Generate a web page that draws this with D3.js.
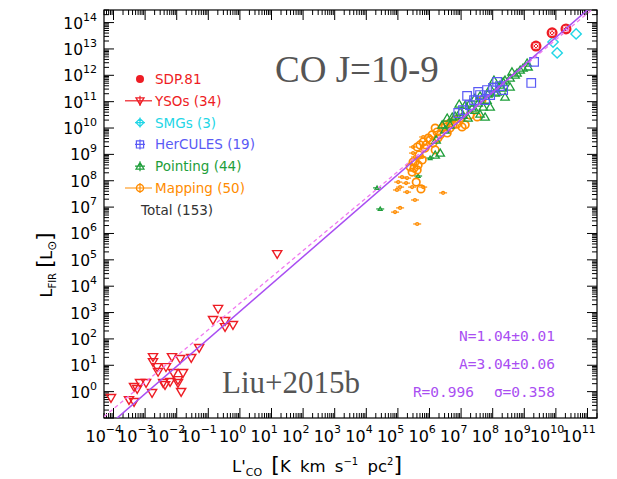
<!DOCTYPE html>
<html><head><meta charset="utf-8">
<script src="https://cdn.jsdelivr.net/npm/d3@7"></script>
<style>body{margin:0;background:#fff}</style>
</head><body>
<svg id="c" width="617" height="479" xmlns="http://www.w3.org/2000/svg"></svg>
<script>
// ---- data (log10 values: L'CO, L_FIR) ----
const sdpX = [9.37, 9.88, 10.32];
const sdpY = [13.11, 13.61, 13.76];
const smgX = [9.91, 10.04, 10.64];
const smgY = [13.26, 12.85, 13.57];
const herX = [9.31, 9.22, 8.14, 8.33, 7.82, 7.60, 7.28, 7.92, 7.06, 6.91, 7.54, 7.19, 8.01, 7.76, 7.41, 8.23];
const herY = [12.51, 11.71, 11.75, 11.44, 11.44, 11.25, 10.87, 11.25, 10.68, 10.57, 11.37, 11.22, 11.52, 11.06, 11.06, 11.59];
const ptX = [9.09, 9.12, 8.96, 8.77, 8.55, 8.55, 8.33, 8.30, 8.39, 8.14, 7.92, 7.82, 7.60, 7.28, 7.13, 7.70, 7.92, 7.44, 6.56, 6.72, 7.06, 7.76, 6.81, 7.60, 7.22, 6.18, 6.34, 6.21, 6.40, 8.87, 6.94, 8.04, 7.44, 8.23, 8.61, 7.85, 7.35, 7.54, 8.08, 6.65, 8.39, 8.71, 6.97, 6.49];
const ptY = [12.47, 12.32, 12.28, 12.09, 11.90, 11.56, 11.75, 11.52, 11.18, 11.37, 11.52, 11.06, 11.22, 10.95, 10.87, 10.80, 10.80, 10.68, 10.38, 10.42, 10.49, 10.42, 10.46, 10.53, 10.38, 8.98, 9.05, 9.55, 10.12, 12.20, 10.91, 11.82, 11.14, 11.63, 12.13, 11.29, 10.76, 10.95, 11.33, 10.12, 11.82, 12.01, 10.61, 9.93];
const ptLimX = [4.34, 4.44, 6.02, 5.64];
const ptLimY = [7.73, 6.93, 8.86, 8.18];
const mapX = [6.08, 6.24, 6.40, 6.49, 6.65, 6.81, 6.97, 7.13, 7.03, 5.80, 5.70, 5.61, 5.86, 6.11, 6.18, 5.48, 5.39, 5.45, 5.61, 5.54, 5.64, 5.58, 5.73, 7.28, 7.51, 6.27, 6.56, 6.75, 5.96, 7.66, 6.49, 6.34, 5.89, 6.02, 6.65, 6.87, 5.67, 5.77, 5.51, 6.18];
const mapY = [9.74, 9.85, 10.00, 10.12, 10.19, 10.31, 10.38, 10.12, 10.04, 9.47, 9.36, 9.28, 9.24, 9.43, 9.17, 8.71, 8.52, 8.33, 8.41, 8.71, 8.60, 7.95, 7.69, 10.49, 10.42, 9.62, 9.81, 10.12, 9.62, 11.06, 10.04, 9.74, 9.36, 9.55, 10.00, 10.15, 8.98, 8.79, 8.48, 10.00];
const mapLimX = [5.80, 5.48, 5.48, 5.54, 5.77, 5.13, 5.01, 5.29, 5.26, 5.45, 4.97, 5.29, 5.54, 6.43, 5.61, 5.80, 5.07, 5.07, 4.91];
const mapLimY = [9.66, 9.28, 9.05, 8.90, 8.90, 8.14, 7.95, 8.10, 7.91, 7.76, 7.65, 7.57, 7.27, 7.54, 6.36, 7.76, 7.76, 6.97, 6.81];
const ysoX = [1.18, -0.69, -0.85, -0.47, -0.47, -0.22, -1.29, -1.54, -2.15, -1.89, -2.75, -2.75, -2.62, -2.59, -2.34, -2.11, -1.80, -2.43, -2.37, -2.21, -1.96, -1.96, -1.86, -2.78, -2.97, -3.16, -3.35, -3.25, -3.51, -3.35, -4.08];
const ysoY = [5.22, 3.14, 2.72, 2.68, 2.45, 2.53, 1.66, 1.28, 1.31, 1.24, 1.31, 1.12, 0.93, 0.75, 0.93, 0.71, 0.71, 0.33, 0.25, 0.37, 0.44, 0.33, -0.01, -0.05, 0.33, 0.33, 0.18, 0.10, -0.32, -0.39, -0.24];
const legendLabels = ["SDP.81", "YSOs (34)", "SMGs (3)", "HerCULES (19)", "Pointing (44)", "Mapping (50)", "Total (153)"];
const xTickExps = [-4,-3,-2,-1,0,1,2,3,4,5,6,7,8,9,10,11];
const yTickExps = [0,1,2,3,4,5,6,7,8,9,10,11,12,13,14];
const fitN = 1.04, fitA = 3.04;         // solid fit: log Lfir = N log L'co + A
const refSlope = 1.0, refIntercept = 3.35; // dashed reference line
const statLines = ["N=1.04±0.01", "A=3.04±0.06"];
const statR = "R=0.996", statSigma = "σ=0.358";

// ---- colours ----
const C = {red:"#ee1c24", cyan:"#22d6e6", blue:"#5a5af5", green:"#1e9e3a", orange:"#ff8c00", purple:"#a94ef2", pink:"#f07af0"};

const svg = d3.select("#c");
const F = {l:104, r:597, t:10, b:418};
const x = d3.scaleLog().domain([5e-5, 2e11]).range([F.l, F.r]);
const y = d3.scaleLog().domain([0.1, 3e14]).range([F.b, F.t]);
const P = v => Math.pow(10, v);

svg.append("rect").attr("width",617).attr("height",479).attr("fill","#fff");
svg.append("defs").append("clipPath").attr("id","clip").append("rect")
  .attr("x",F.l).attr("y",F.t).attr("width",F.r-F.l).attr("height",F.b-F.t);

// ---- axes (IDL style, ticks inward on all sides) ----
function ticksFor(scale){
  const [a,b] = scale.domain(); const lo=Math.floor(Math.log10(a)), hi=Math.ceil(Math.log10(b));
  const major=[], minor=[];
  for(let d=lo; d<=hi; d++){
    for(let k=1;k<10;k++){ const v=k*P(d); if(v<a*0.9999||v>b*1.0001) continue; (k===1?major:minor).push(v); }
  }
  return {major, minor};
}
const xt = ticksFor(x), yt = ticksFor(y);
const axG = svg.append("g").attr("stroke","#000").attr("stroke-width",1);
function tickLines(vals, len, horiz){
  vals.forEach(v=>{
    if(horiz){
      const px = x(v);
      axG.append("line").attr("x1",px).attr("x2",px).attr("y1",F.b).attr("y2",F.b-len);
      axG.append("line").attr("x1",px).attr("x2",px).attr("y1",F.t).attr("y2",F.t+len);
    } else {
      const py = y(v);
      axG.append("line").attr("y1",py).attr("y2",py).attr("x1",F.l).attr("x2",F.l+len);
      axG.append("line").attr("y1",py).attr("y2",py).attr("x1",F.r).attr("x2",F.r-len);
    }
  });
}
tickLines(xt.major, 10, true); tickLines(xt.minor, 5, true);
tickLines(yt.major, 10, false); tickLines(yt.minor, 5, false);
svg.append("rect").attr("x",F.l).attr("y",F.t).attr("width",F.r-F.l).attr("height",F.b-F.t)
  .attr("fill","none").attr("stroke","#000").attr("stroke-width",1.2);

const tickFont = "DejaVu Sans";
xTickExps.forEach(e=>{
  const px = x(P(e));
  const off = e<0 ? 28 : (String(e).length>1 ? 26 : 21);
  const t = svg.append("text").attr("x",px-off).attr("y",442).attr("font-family",tickFont).attr("font-size",16).attr("fill","#000");
  t.append("tspan").text("10");
  t.append("tspan").attr("font-size",11).attr("dy",-9).text(String(e).replace("-","−"));
});
yTickExps.forEach(e=>{
  const py = y(P(e));
  const t = svg.append("text").attr("x",97).attr("y",py+6).attr("text-anchor","end").attr("font-family",tickFont).attr("font-size",15.5).attr("fill","#000");
  t.append("tspan").text("10");
  t.append("tspan").attr("font-size",11).attr("dy",-8).text(String(e));
});

// axis titles
const xl = svg.append("text").attr("x",232).attr("y",472).attr("font-family",tickFont).attr("font-size",16.5)
  .attr("fill","#000").attr("word-spacing",4);
xl.append("tspan").text("L'");
xl.append("tspan").attr("font-size",11).attr("dy",4).text("CO");
xl.append("tspan").attr("dy",-4).text(" ");
xl.append("tspan").attr("font-size",22).text("[");
xl.append("tspan").text("K km s");
xl.append("tspan").attr("font-size",10).attr("dy",-7).text("−1");
xl.append("tspan").attr("dy",7).text(" pc");
xl.append("tspan").attr("font-size",10).attr("dy",-7).text("2");
xl.append("tspan").attr("dy",7).attr("font-size",22).text("]");

const yl = svg.append("text").attr("transform","translate(52,265) rotate(-90)").attr("text-anchor","middle")
  .attr("font-family",tickFont).attr("font-size",16).attr("fill","#000");
yl.append("tspan").text("L");
yl.append("tspan").attr("font-size",10).attr("dy",4).text("FIR");
yl.append("tspan").attr("dy",-4).text(" ");
yl.append("tspan").attr("font-size",21).text("[");
yl.append("tspan").text("L");
yl.append("tspan").attr("font-size",12).attr("dy",4).text("⊙");
yl.append("tspan").attr("dy",-4).attr("font-size",21).text("]");

// ---- markers ----
const plot = svg.append("g").attr("clip-path","url(#clip)");
function triDown(s){ return `M${-s},${-s*0.75}L${s},${-s*0.75}L0,${s*0.95}Z`; }
function triUp(s){ return `M${-s},${s*0.75}L${s},${s*0.75}L0,${-s*0.95}Z`; }
function diamond(s){ return `M0,${-s}L${s},0L0,${s}L${-s},0Z`; }
function square(s){ return `M${-s},${-s}L${s},${-s}L${s},${s}L${-s},${s}Z`; }

function pts(xs, ys, path, color, sw){
  plot.append("g").selectAll("path").data(xs.map((v,i)=>[v,ys[i]])).join("path")
    .attr("transform",d=>`translate(${x(P(d[0]))},${y(P(d[1]))})`)
    .attr("d",path).attr("fill","none").attr("stroke",color).attr("stroke-width",sw);
}
// limits (small horizontal bars)
function lims(xs, ys, color, kind){
  const g = plot.append("g").attr("stroke",color).attr("fill","none").attr("stroke-width",1.2);
  xs.forEach((v,i)=>{
    const px=x(P(v)), py=y(P(ys[i]));
    g.append("line").attr("x1",px-4).attr("x2",px+4).attr("y1",py).attr("y2",py);
    if(kind==="c") g.append("circle").attr("cx",px).attr("cy",py).attr("r",1.5);
    else g.append("path").attr("d",`M${px-2},${py+1.5}L${px+2},${py+1.5}L${px},${py-2}Z`);
  });
}
lims(mapLimX, mapLimY, C.orange, "c");
lims(ptLimX, ptLimY, C.green, "t");
pts(mapX, mapY, d3.symbol().type(d3.symbolCircle).size(44)(), C.orange, 1.7);
pts(ptX, ptY, triUp(4.2), C.green, 1.3);
pts(herX, herY, square(4.3), C.blue, 1.2);
pts(smgX, smgY, diamond(5.2), C.cyan, 1.4);
pts(ysoX, ysoY, triDown(4.6), C.red, 1.4);
// SDP.81 filled circles with white cross
const sg = plot.append("g");
sdpX.forEach((v,i)=>{
  const px=x(P(v)), py=y(P(sdpY[i]));
  sg.append("circle").attr("cx",px).attr("cy",py).attr("r",5.5).attr("fill",C.red);
  sg.append("path").attr("d",`M${px-2.5},${py-2.5}L${px+2.5},${py+2.5}M${px-2.5},${py+2.5}L${px+2.5},${py-2.5}`)
    .attr("stroke","#fff").attr("stroke-width",1);
  sg.append("circle").attr("cx",px).attr("cy",py).attr("r",2.8).attr("fill","none").attr("stroke","#fff").attr("stroke-width",0.8);
});

// ---- fit lines ----
const [dx0, dx1] = x.domain();
const lx0 = Math.log10(dx0), lx1 = Math.log10(dx1);
plot.append("line")
  .attr("x1",x(dx0)).attr("y1",y(P(refSlope*lx0+refIntercept)))
  .attr("x2",x(dx1)).attr("y2",y(P(refSlope*lx1+refIntercept)))
  .attr("stroke",C.pink).attr("stroke-width",1.3).attr("stroke-dasharray","4,3");
plot.append("line")
  .attr("x1",x(dx0)).attr("y1",y(P(fitN*lx0+fitA)))
  .attr("x2",x(dx1)).attr("y2",y(P(fitN*lx1+fitA)))
  .attr("stroke",C.purple).attr("stroke-width",1.5);

// ---- legend ----
const lg = svg.append("g");
const lx = 140, ly0 = 79, ldy = 21.8;
const legColors = [C.red, C.red, C.cyan, C.blue, C.green, C.orange, "#333"];
legendLabels.forEach((t,i)=>{
  lg.append("text").attr("x", i===6 ? 141 : 155).attr("y",ly0+i*ldy+5).attr("font-family","DejaVu Sans").attr("font-size",13.5)
    .attr("fill",legColors[i]).text(t);
});
function legSym(i, fn){ const g = lg.append("g").attr("transform",`translate(${lx},${ly0+i*ldy})`); fn(g, legColors[i]); }
legSym(0,(g,c)=>g.append("circle").attr("r",4).attr("fill",c));
legSym(1,(g,c)=>{ g.append("line").attr("x1",-15).attr("x2",12).attr("stroke",c).attr("stroke-width",1.2);
  g.append("line").attr("y1",-5).attr("y2",5).attr("stroke",c).attr("stroke-width",1.2);
  g.append("path").attr("d",triDown(4)).attr("fill","none").attr("stroke",c).attr("stroke-width",1.3); });
legSym(2,(g,c)=>{ g.append("path").attr("d",diamond(4)+"M-5,0L5,0M0,-5L0,5").attr("fill","none").attr("stroke",c).attr("stroke-width",1.3); });
legSym(3,(g,c)=>{ g.append("path").attr("d",square(3.6)+"M-5,0L5,0M0,-5L0,5").attr("fill","none").attr("stroke",c).attr("stroke-width",1.2); });
legSym(4,(g,c)=>{ g.append("path").attr("d",triUp(4)+"M-5,0L5,0M0,-5L0,5").attr("fill","none").attr("stroke",c).attr("stroke-width",1.2); });
legSym(5,(g,c)=>{ g.append("path").attr("d","M-15,0L12,0M0,-5L0,5").attr("stroke",c).attr("stroke-width",1.2);
  g.append("circle").attr("r",3.6).attr("fill","none").attr("stroke",c).attr("stroke-width",1.3); });

// ---- annotations ----
svg.append("text").attr("x",275).attr("y",82).attr("font-family","Liberation Serif").attr("font-size",37)
  .attr("fill","#555").text("CO J=10-9");
svg.append("text").attr("x",222).attr("y",393).attr("font-family","Liberation Serif").attr("font-size",31)
  .attr("fill","#555").text("Liu+2015b");
statLines.forEach((s,i)=>{
  svg.append("text").attr("x",555).attr("y",341+i*27.5).attr("text-anchor","end")
    .attr("font-family","DejaVu Sans Mono").attr("font-size",14.5).attr("fill",C.purple).text(s);
});
svg.append("text").attr("x",474).attr("y",397).attr("text-anchor","end").attr("font-family","DejaVu Sans Mono").attr("font-size",14.5).attr("fill",C.purple).text(statR);
svg.append("text").attr("x",555).attr("y",397).attr("text-anchor","end").attr("font-family","DejaVu Sans Mono").attr("font-size",14.5).attr("fill",C.purple).text(statSigma);
</script>
</body></html>
